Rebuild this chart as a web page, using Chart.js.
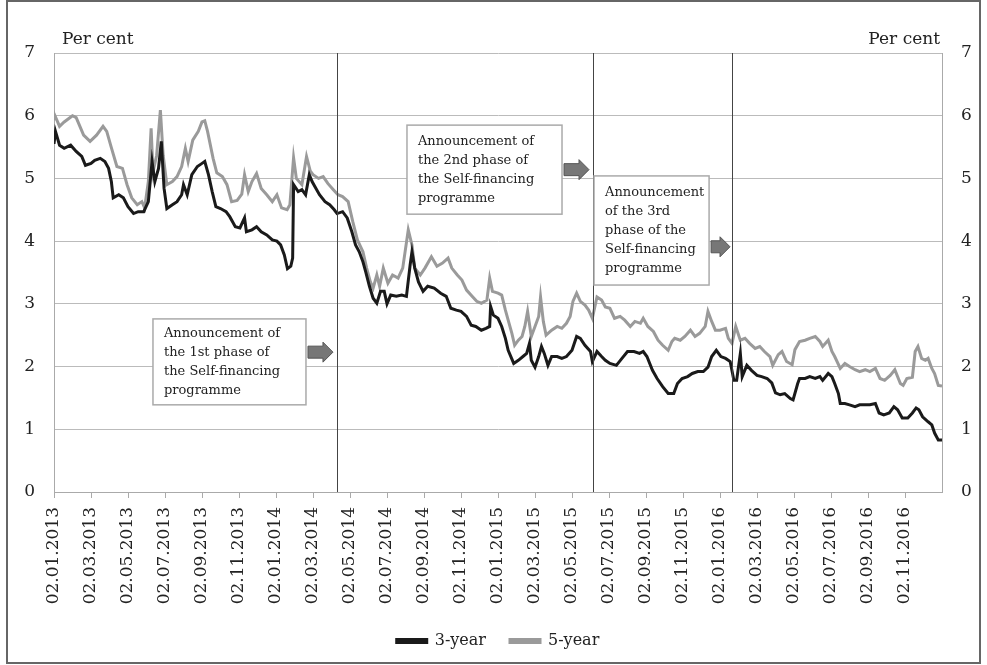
<!DOCTYPE html>
<html>
<head>
<meta charset="utf-8">
<script src="https://cdn.jsdelivr.net/npm/chart.js@4.4.1/dist/chart.umd.min.js"></script>
<style>
  html, body { margin: 0; padding: 0; background: #fff; }
  #wrap { width: 987px; height: 665px; position: relative; }
</style>
</head>
<body>
<div id="wrap"><canvas id="grafica"></canvas></div>
<script>
// Etiquetas del eje X (cada dos meses)
const tickLabels = ["02.01.2013", "02.03.2013", "02.05.2013", "02.07.2013", "02.09.2013", "02.11.2013",
    "02.01.2014", "02.03.2014", "02.05.2014", "02.07.2014", "02.09.2014", "02.11.2014",
    "02.01.2015", "02.03.2015", "02.05.2015", "02.07.2015", "02.09.2015", "02.11.2015",
    "02.01.2016", "02.03.2016", "02.05.2016", "02.07.2016", "02.09.2016", "02.11.2016"];

// [meses desde 02.01.2013, por ciento]
const yield3 = [[0,5.55],[0.08,5.75],[0.3,5.53],[0.55,5.48],[0.9,5.53],[1.2,5.43],[1.5,5.35],[1.7,5.21],
    [2.0,5.24],[2.2,5.29],[2.5,5.32],[2.75,5.27],[2.95,5.16],[3.1,4.95],[3.2,4.69],[3.5,4.74],[3.75,4.69],
    [4.0,4.55],[4.3,4.44],[4.55,4.47],[4.85,4.47],[5.1,4.63],[5.3,5.27],[5.45,4.95],[5.65,5.16],[5.8,5.59],
    [5.95,4.84],[6.1,4.52],[6.4,4.58],[6.65,4.63],[6.9,4.74],[7.0,4.9],[7.2,4.74],[7.45,5.06],[7.75,5.19],
    [8.0,5.24],[8.15,5.27],[8.35,5.06],[8.55,4.79],[8.75,4.55],[9.0,4.52],[9.3,4.47],[9.5,4.39],[9.8,4.23],
    [10.05,4.21],[10.3,4.37],[10.4,4.15],[10.7,4.18],[10.95,4.23],[11.2,4.15],[11.5,4.1],[11.8,4.02],
    [12.05,4.0],[12.25,3.94],[12.45,3.78],[12.62,3.56],[12.8,3.6],[12.9,3.73],[12.95,4.9],[13.2,4.79],
    [13.4,4.82],[13.6,4.74],[13.8,5.06],[13.95,4.95],[14.1,4.87],[14.35,4.74],[14.65,4.63],[14.9,4.58],
    [15.15,4.5],[15.3,4.44],[15.6,4.47],[15.85,4.37],[16.1,4.15],[16.3,3.94],[16.5,3.83],[16.7,3.67],
    [16.85,3.51],[17.05,3.28],[17.25,3.09],[17.45,3.01],[17.65,3.2],[17.85,3.2],[18.0,3.0],[18.2,3.14],
    [18.5,3.12],[18.8,3.14],[19.05,3.12],[19.25,3.62],[19.35,3.83],[19.5,3.57],[19.7,3.35],[19.95,3.2],
    [20.2,3.28],[20.55,3.25],[20.9,3.17],[21.2,3.12],[21.45,2.93],[21.75,2.9],[22.0,2.88],[22.3,2.8],
    [22.55,2.66],[22.8,2.64],[23.1,2.58],[23.35,2.61],[23.55,2.64],[23.6,2.96],[23.75,2.82],[24.0,2.77],
    [24.2,2.64],[24.4,2.45],[24.55,2.26],[24.85,2.05],[25.1,2.1],[25.35,2.16],[25.55,2.21],[25.7,2.37],
    [25.8,2.1],[26.0,1.99],[26.2,2.16],[26.35,2.32],[26.5,2.21],[26.7,2.02],[26.9,2.16],[27.2,2.16],
    [27.45,2.13],[27.7,2.16],[28.0,2.26],[28.25,2.48],[28.45,2.45],[28.7,2.34],[29.0,2.24],[29.1,2.08],
    [29.35,2.24],[29.6,2.16],[29.8,2.1],[30.05,2.05],[30.4,2.02],[30.7,2.13],[31.0,2.24],[31.35,2.24],
    [31.65,2.21],[31.85,2.24],[32.05,2.16],[32.35,1.94],[32.6,1.81],[32.9,1.68],[33.2,1.57],[33.5,1.57],
    [33.7,1.73],[33.95,1.81],[34.25,1.84],[34.5,1.89],[34.8,1.92],[35.1,1.92],[35.35,1.99],[35.55,2.16],
    [35.8,2.26],[36.05,2.16],[36.3,2.13],[36.55,2.08],[36.75,1.78],[36.9,1.78],[37.1,2.21],[37.2,1.84],
    [37.45,2.02],[37.7,1.94],[38.0,1.86],[38.25,1.84],[38.55,1.81],[38.8,1.74],[39.0,1.58],[39.25,1.55],
    [39.5,1.57],[39.8,1.49],[39.95,1.47],[40.2,1.73],[40.3,1.81],[40.6,1.81],[40.85,1.84],[41.15,1.81],
    [41.4,1.84],[41.55,1.78],[41.85,1.89],[42.05,1.84],[42.2,1.73],[42.4,1.57],[42.5,1.41],[42.75,1.41],
    [43.0,1.39],[43.3,1.36],[43.55,1.39],[43.85,1.39],[44.1,1.39],[44.4,1.41],[44.6,1.26],[44.85,1.23],
    [45.15,1.26],[45.4,1.36],[45.6,1.31],[45.85,1.18],[46.15,1.18],[46.4,1.26],[46.6,1.34],[46.75,1.31],
    [46.95,1.2],[47.25,1.12],[47.45,1.07],[47.6,0.94],[47.8,0.83],[48.0,0.83]];

const yield5 = [[0,5.95],[0.05,6.0],[0.3,5.83],[0.55,5.9],[1.0,6.0],[1.2,5.97],[1.6,5.69],[1.95,5.59],
    [2.3,5.69],[2.65,5.83],[2.85,5.75],[3.1,5.49],[3.4,5.19],[3.7,5.16],[3.95,4.9],[4.2,4.69],[4.5,4.58],
    [4.75,4.63],[4.9,4.53],[5.1,4.95],[5.25,5.8],[5.35,5.1],[5.55,5.37],[5.75,6.09],[5.9,5.37],[6.1,4.9],
    [6.4,4.95],[6.65,5.03],[6.9,5.19],[7.1,5.48],[7.25,5.27],[7.5,5.61],[7.8,5.75],[8.0,5.9],[8.15,5.92],
    [8.3,5.75],[8.6,5.32],[8.8,5.09],[9.1,5.03],[9.35,4.9],[9.6,4.63],[9.9,4.65],[10.15,4.75],[10.3,5.06],
    [10.5,4.79],[10.7,4.95],[10.95,5.08],[11.2,4.84],[11.5,4.74],[11.8,4.63],[12.05,4.74],[12.3,4.53],
    [12.6,4.5],[12.75,4.58],[12.95,5.33],[13.1,5.0],[13.4,4.9],[13.65,5.35],[13.85,5.12],[14.0,5.06],
    [14.3,5.0],[14.55,5.03],[14.8,4.92],[15.1,4.82],[15.35,4.74],[15.6,4.71],[15.9,4.63],[16.15,4.31],
    [16.4,4.02],[16.7,3.83],[16.9,3.57],[17.1,3.35],[17.25,3.25],[17.45,3.46],[17.6,3.28],[17.8,3.57],
    [18.05,3.33],[18.3,3.46],[18.6,3.41],[18.85,3.57],[19.15,4.18],[19.35,3.94],[19.5,3.57],[19.8,3.46],
    [20.05,3.57],[20.4,3.75],[20.7,3.6],[21.0,3.65],[21.3,3.73],[21.5,3.57],[21.8,3.46],[22.05,3.38],
    [22.3,3.22],[22.6,3.12],[22.85,3.04],[23.1,3.01],[23.4,3.06],[23.55,3.41],[23.7,3.2],[24.0,3.17],
    [24.2,3.14],[24.4,2.9],[24.55,2.74],[24.75,2.53],[24.9,2.34],[25.1,2.42],[25.3,2.48],[25.45,2.64],
    [25.6,2.88],[25.8,2.48],[26.0,2.64],[26.2,2.8],[26.3,3.11],[26.45,2.72],[26.6,2.5],[26.9,2.58],
    [27.2,2.64],[27.45,2.61],[27.7,2.69],[27.9,2.8],[28.05,3.04],[28.25,3.17],[28.45,3.04],[28.7,2.98],
    [28.9,2.9],[29.1,2.77],[29.35,3.11],[29.6,3.06],[29.8,2.95],[30.05,2.93],[30.3,2.77],[30.6,2.8],
    [30.85,2.74],[31.15,2.64],[31.4,2.72],[31.7,2.69],[31.85,2.77],[32.1,2.64],[32.4,2.56],[32.65,2.42],
    [32.9,2.34],[33.2,2.26],[33.4,2.4],[33.55,2.45],[33.85,2.42],[34.1,2.48],[34.4,2.58],[34.65,2.48],
    [34.9,2.53],[35.2,2.64],[35.35,2.88],[35.55,2.72],[35.75,2.58],[36.0,2.58],[36.3,2.61],[36.45,2.45],
    [36.65,2.37],[36.85,2.64],[37.1,2.42],[37.35,2.45],[37.6,2.37],[37.9,2.29],[38.15,2.32],[38.4,2.24],
    [38.7,2.16],[38.85,2.02],[39.15,2.19],[39.35,2.24],[39.6,2.08],[39.9,2.03],[40.05,2.27],[40.3,2.4],
    [40.6,2.42],[40.85,2.45],[41.15,2.48],[41.4,2.4],[41.55,2.32],[41.85,2.42],[42.05,2.24],[42.2,2.16],
    [42.5,1.97],[42.75,2.05],[43.0,2.0],[43.3,1.95],[43.55,1.92],[43.85,1.95],[44.1,1.92],[44.4,1.97],
    [44.65,1.81],[44.9,1.78],[45.2,1.86],[45.45,1.95],[45.75,1.73],[45.9,1.7],[46.1,1.81],[46.4,1.83],
    [46.55,2.24],[46.7,2.32],[46.9,2.13],[47.1,2.1],[47.25,2.13],[47.45,1.97],[47.6,1.89],[47.8,1.7],
    [48.0,1.69]];

// Fechas de los anuncios (meses desde 02.01.2013)
const eventMonths = [15.3, 29.14, 36.65];

// Cuadros de texto: [x1, x2] en meses, [yTop, yBottom] en por ciento, y de la flecha
const notes = [
    { lines: ["Announcement of", "the 1st phase of", "the Self-financing", "programme"],
      x: [5.35, 13.62], y: [2.76, 1.39], arrowY: 2.23, event: 0 },
    { lines: ["Announcement of", "the 2nd phase of", "the Self-financing", "programme"],
      x: [19.08, 27.46], y: [5.85, 4.43], arrowY: 5.14, event: 1 },
    { lines: ["Announcement", "of the 3rd", "phase of the", "Self-financing", "programme"],
      x: [29.19, 35.41], y: [5.04, 3.3], arrowY: 3.91, event: 2 }
];

const SERIF = "'DejaVu Serif', 'Liberation Serif', serif";

const toPoints = arr => arr.map(p => ({ x: p[0], y: p[1] }));

// Plugin: lineas verticales, cuadros, "Per cent" y marco
const extras = {
    id: 'extras',
    afterDatasetsDraw(chart) {
        const { ctx, chartArea, scales } = chart;
        const xs = scales.x, ys = scales.y;
        ctx.save();
        // lineas verticales
        ctx.strokeStyle = '#444';
        ctx.lineWidth = 1;
        eventMonths.forEach(m => {
            const px = Math.round(xs.getPixelForValue(m)) + 0.5;
            ctx.beginPath();
            ctx.moveTo(px, chartArea.top);
            ctx.lineTo(px, chartArea.bottom);
            ctx.stroke();
        });
        // cuadros y flechas
        notes.forEach(n => {
            const x1 = xs.getPixelForValue(n.x[0]), x2 = xs.getPixelForValue(n.x[1]);
            const y1 = ys.getPixelForValue(n.y[0]), y2 = ys.getPixelForValue(n.y[1]);
            ctx.fillStyle = '#fff';
            ctx.fillRect(x1, y1, x2 - x1, y2 - y1);
            ctx.strokeStyle = '#aaa';
            ctx.lineWidth = 1.5;
            ctx.strokeRect(x1, y1, x2 - x1, y2 - y1);
            ctx.fillStyle = '#222';
            ctx.font = "13px " + SERIF;
            ctx.textBaseline = 'middle';
            ctx.textAlign = 'left';
            const lh = 19;
            const startY = (y1 + y2) / 2 - (n.lines.length - 1) * lh / 2;
            n.lines.forEach((t, i) => ctx.fillText(t, x1 + 11, startY + i * lh));
            // flecha
            const ex = xs.getPixelForValue(eventMonths[n.event]);
            const ay = ys.getPixelForValue(n.arrowY);
            const ax1 = x2 + 2;
            const ax2 = Math.min(x2 + 27, ex - 2);
            const head = 10;
            ctx.beginPath();
            ctx.moveTo(ax1, ay - 6);
            ctx.lineTo(ax2 - head, ay - 6);
            ctx.lineTo(ax2 - head, ay - 10);
            ctx.lineTo(ax2, ay);
            ctx.lineTo(ax2 - head, ay + 10);
            ctx.lineTo(ax2 - head, ay + 6);
            ctx.lineTo(ax1, ay + 6);
            ctx.closePath();
            ctx.fillStyle = '#777';
            ctx.fill();
            ctx.strokeStyle = '#555';
            ctx.lineWidth = 1;
            ctx.stroke();
        });
        ctx.restore();
    },
    afterDraw(chart) {
        const { ctx, chartArea } = chart;
        ctx.save();
        ctx.fillStyle = '#222';
        ctx.font = "17px " + SERIF;
        ctx.textBaseline = 'alphabetic';
        ctx.textAlign = 'left';
        ctx.fillText('Per cent', chartArea.left + 8, chartArea.top - 9);
        ctx.textAlign = 'right';
        ctx.fillText('Per cent', chartArea.right - 2, chartArea.top - 9);
        // marco exterior
        ctx.strokeStyle = '#666';
        ctx.lineWidth = 2;
        ctx.strokeRect(7, 1, chart.width - 14, chart.height - 3);
        ctx.restore();
    }
};

new Chart(document.querySelector('#grafica'), {
    type: 'line',
    data: {
        datasets: [
            { label: '3-year', data: toPoints(yield3), borderColor: '#1a1a1a', backgroundColor: '#1a1a1a',
              borderWidth: 3, pointRadius: 0, tension: 0, yAxisID: 'y' },
            { label: '5-year', data: toPoints(yield5), borderColor: '#9a9a9a', backgroundColor: '#9a9a9a',
              borderWidth: 3, pointRadius: 0, tension: 0, yAxisID: 'y' }
        ]
    },
    options: {
        responsive: true,
        maintainAspectRatio: false,
        animation: false,
        layout: { padding: { left: 24, right: 15, top: 53, bottom: 6 } },
        plugins: {
            tooltip: { enabled: false },
            legend: {
                position: 'bottom',
                labels: { boxWidth: 30, boxHeight: 3, padding: 24, color: '#222',
                          font: { family: SERIF, size: 16 } }
            }
        },
        scales: {
            x: {
                type: 'linear', min: 0, max: 48,
                afterBuildTicks: s => { s.ticks = tickLabels.map((_, i) => ({ value: i * 2 })); },
                afterFit: s => { s.height = 117; },
                grid: { drawOnChartArea: false, tickLength: 6, color: '#aaa' },
                border: { color: '#aaa' },
                ticks: { autoSkip: false, minRotation: 90, maxRotation: 90, padding: 9, color: '#222',
                         font: { family: SERIF, size: 17 },
                         callback: v => tickLabels[Math.round(v / 2)] }
            },
            y: {
                position: 'left', min: 0, max: 7,
                afterFit: s => { s.width = 30; },
                grid: { color: '#bbb', drawTicks: false },
                border: { color: '#aaa' },
                ticks: { stepSize: 1, padding: 19, color: '#222', font: { family: SERIF, size: 17 } }
            },
            y2: {
                position: 'right', min: 0, max: 7,
                afterFit: s => { s.width = 30; },
                grid: { drawOnChartArea: false, drawTicks: false },
                border: { color: '#aaa' },
                ticks: { stepSize: 1, padding: 19, color: '#222', font: { family: SERIF, size: 17 } }
            }
        }
    },
    plugins: [extras]
});
</script>
</body>
</html>
